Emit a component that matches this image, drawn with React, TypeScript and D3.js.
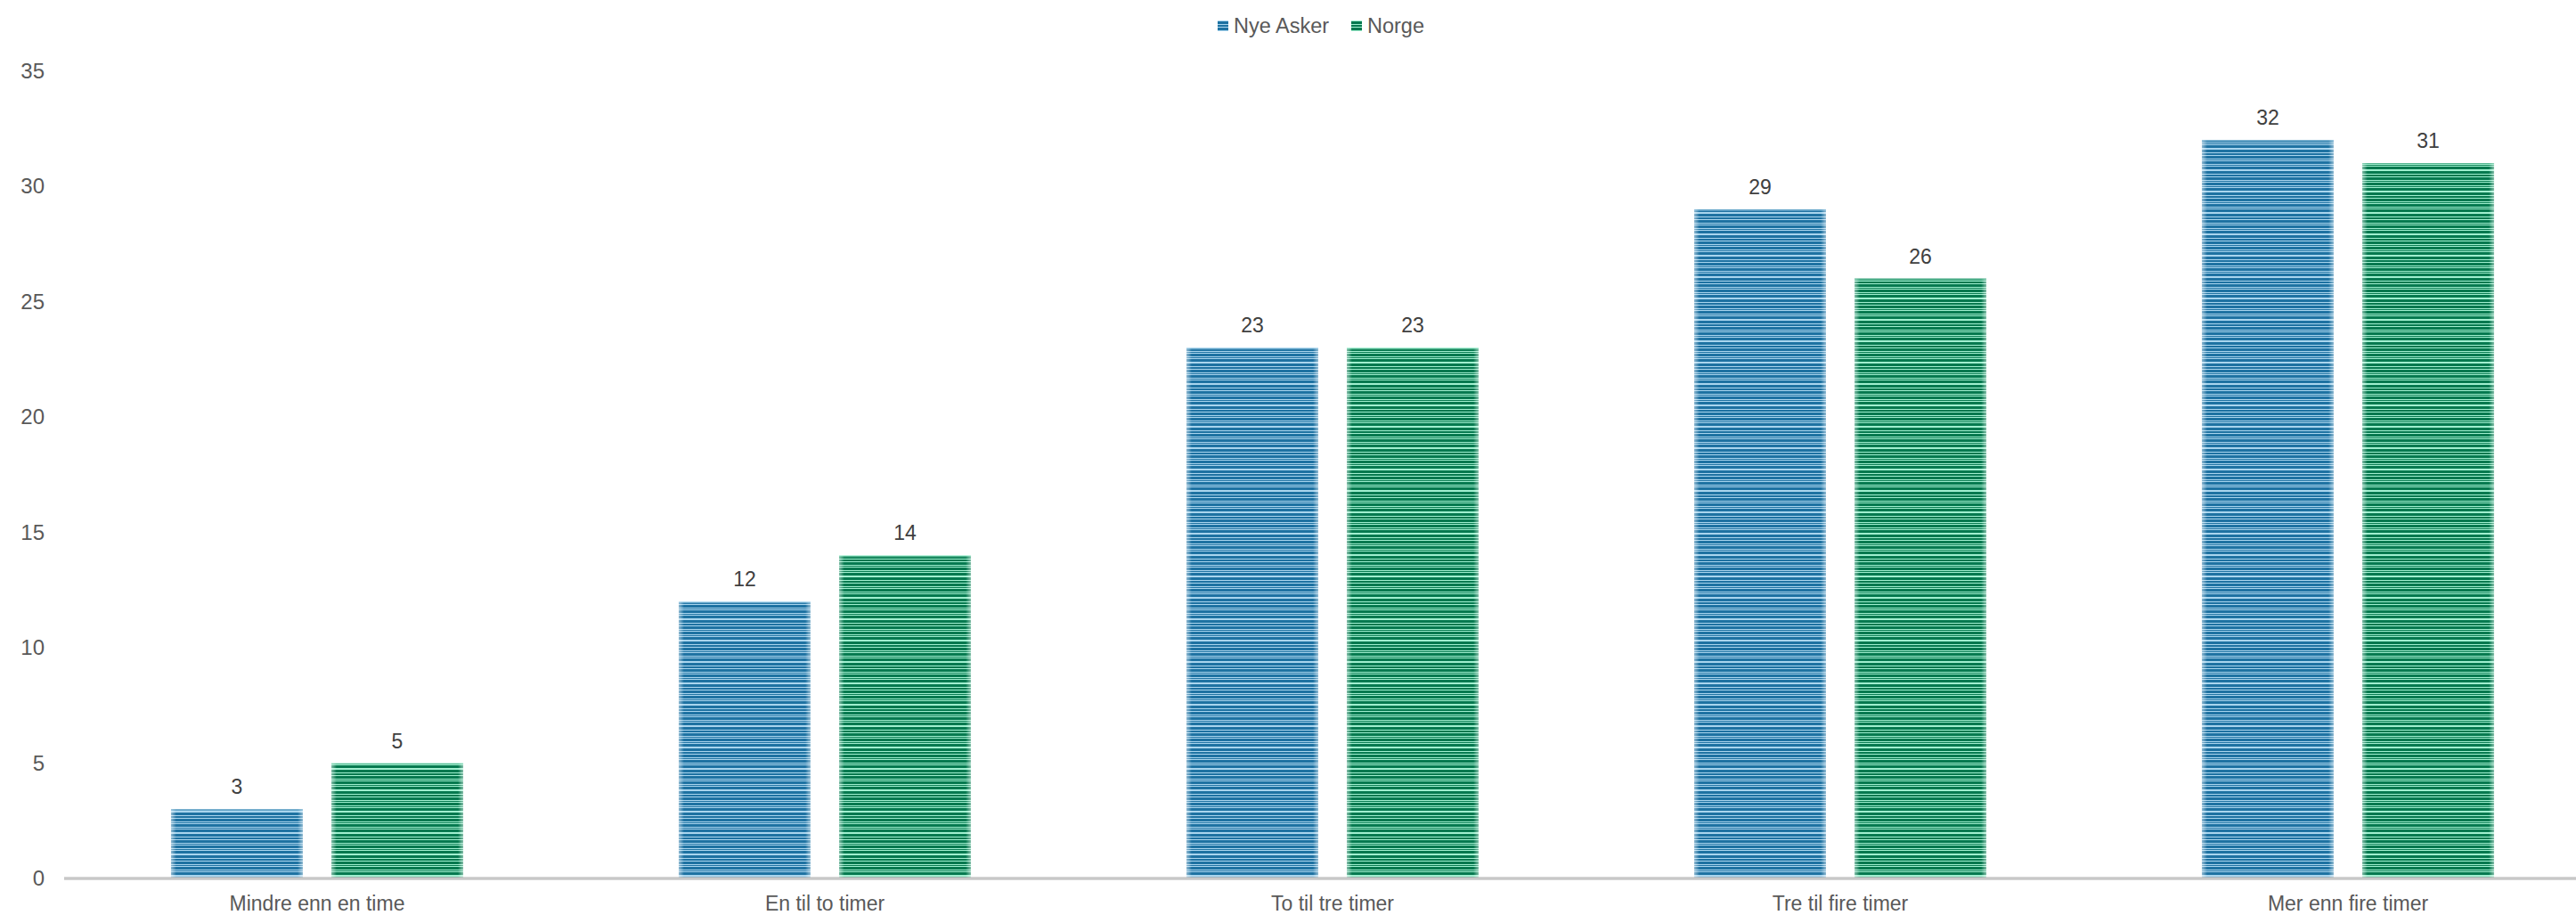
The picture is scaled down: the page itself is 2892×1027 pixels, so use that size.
import React from "react";
import * as d3 from "d3";

const categories = ["Mindre enn en time", "En til to timer", "To til tre timer", "Tre til fire timer", "Mer enn fire timer"];
const seriesNames = ["Nye Asker", "Norge"];
const nyeAsker = [3, 12, 23, 29, 32];
const norge = [5, 14, 23, 26, 31];
const yTicks = [0, 5, 10, 15, 20, 25, 30, 35];

const W = 2892;
const H = 1027;
const FONT = "'Liberation Sans', Arial, sans-serif";

const colors = [
  { dark: "#1e72a2", light: "#a9d5ee", id: "pBlue" },
  { dark: "#06794f", light: "#a0efcf", id: "pGreen" },
];

// stripe rows (dark) within a 24px repeating tile
const stripeRows: [number, number][] = [
  [0, 3], [4, 6], [7, 10], [11, 12], [13, 16], [17, 18], [19, 22],
];

export default function App() {
  const x0 = d3.scaleBand<string>().domain(categories).range([71, 2921]).paddingInner(0).paddingOuter(0);
  const x1 = d3
    .scaleBand<string>()
    .domain(seriesNames)
    .range([0, x0.bandwidth()])
    .paddingInner(32 / 180)
    .paddingOuter(0.672);
  const y = d3.scaleLinear().domain([0, 35]).range([986, 79.5]);
  const data = [nyeAsker, norge];

  return (
    <svg width={W} height={H} style={{ display: "block", position: "absolute", left: 0, top: 0 }}>
      <defs>
        {colors.map((c) => (
          <pattern key={c.id} id={c.id} patternUnits="userSpaceOnUse" width={10} height={24}>
            <rect x={0} y={0} width={10} height={24} fill={c.light} />
            {stripeRows.map(([a, b], i) => (
              <rect key={i} x={0} y={a} width={10} height={b - a} fill={c.dark} />
            ))}
          </pattern>
        ))}
        <linearGradient id="edgeGlow" x1="0" x2="1" y1="0" y2="0">
          <stop offset="0" stopColor="#ffffff" stopOpacity={0.5} />
          <stop offset="0.04" stopColor="#ffffff" stopOpacity={0} />
          <stop offset="0.96" stopColor="#ffffff" stopOpacity={0} />
          <stop offset="1" stopColor="#ffffff" stopOpacity={0.5} />
        </linearGradient>
      </defs>
      <rect x={0} y={0} width={W} height={H} fill="#ffffff" />

      {/* legend */}
      <g fontFamily={FONT} fontSize={23.5} fill="#595959">
        <rect x={1367} y={23} width={12} height={12} fill={`url(#${colors[0].id})`} />
        <text x={1385} y={37}>{seriesNames[0]}</text>
        <rect x={1517} y={23} width={12} height={12} fill={`url(#${colors[1].id})`} />
        <text x={1535} y={37}>{seriesNames[1]}</text>
      </g>

      {/* y tick labels */}
      <g fontFamily={FONT} fontSize={24} fill="#595959" textAnchor="end">
        {yTicks.map((t) => (
          <text key={t} x={50} y={y(t)} dy="0.35em">
            {t}
          </text>
        ))}
      </g>

      {/* bars */}
      {categories.map((cat, ci) => (
        <g key={cat}>
          {seriesNames.map((s, si) => {
            const v = data[si][ci];
            const bx = (x0(cat) ?? 0) + (x1(s) ?? 0);
            const bw = x1.bandwidth();
            const by = y(v);
            const bh = y(0) - y(v);
            return (
              <g key={s}>
                <rect x={bx} y={by} width={bw} height={bh} fill={`url(#${colors[si].id})`} />
                <rect x={bx} y={by} width={bw} height={bh} fill="url(#edgeGlow)" />
                <rect x={bx} y={by} width={bw} height={2} fill={colors[si].light} opacity={0.5} />
                <text
                  x={bx + bw / 2}
                  y={by - 17}
                  textAnchor="middle"
                  fontFamily={FONT}
                  fontSize={23}
                  fill="#404040"
                >
                  {v}
                </text>
              </g>
            );
          })}
        </g>
      ))}

      {/* x axis line */}
      <line x1={72} x2={W} y1={986} y2={986} stroke="#c8c8c8" strokeWidth={3.5} />

      {/* x labels */}
      <g fontFamily={FONT} fontSize={23} fill="#595959" textAnchor="middle">
        {categories.map((cat) => (
          <text key={cat} x={(x0(cat) ?? 0) + x0.bandwidth() / 2} y={1022}>
            {cat}
          </text>
        ))}
      </g>
    </svg>
  );
}
